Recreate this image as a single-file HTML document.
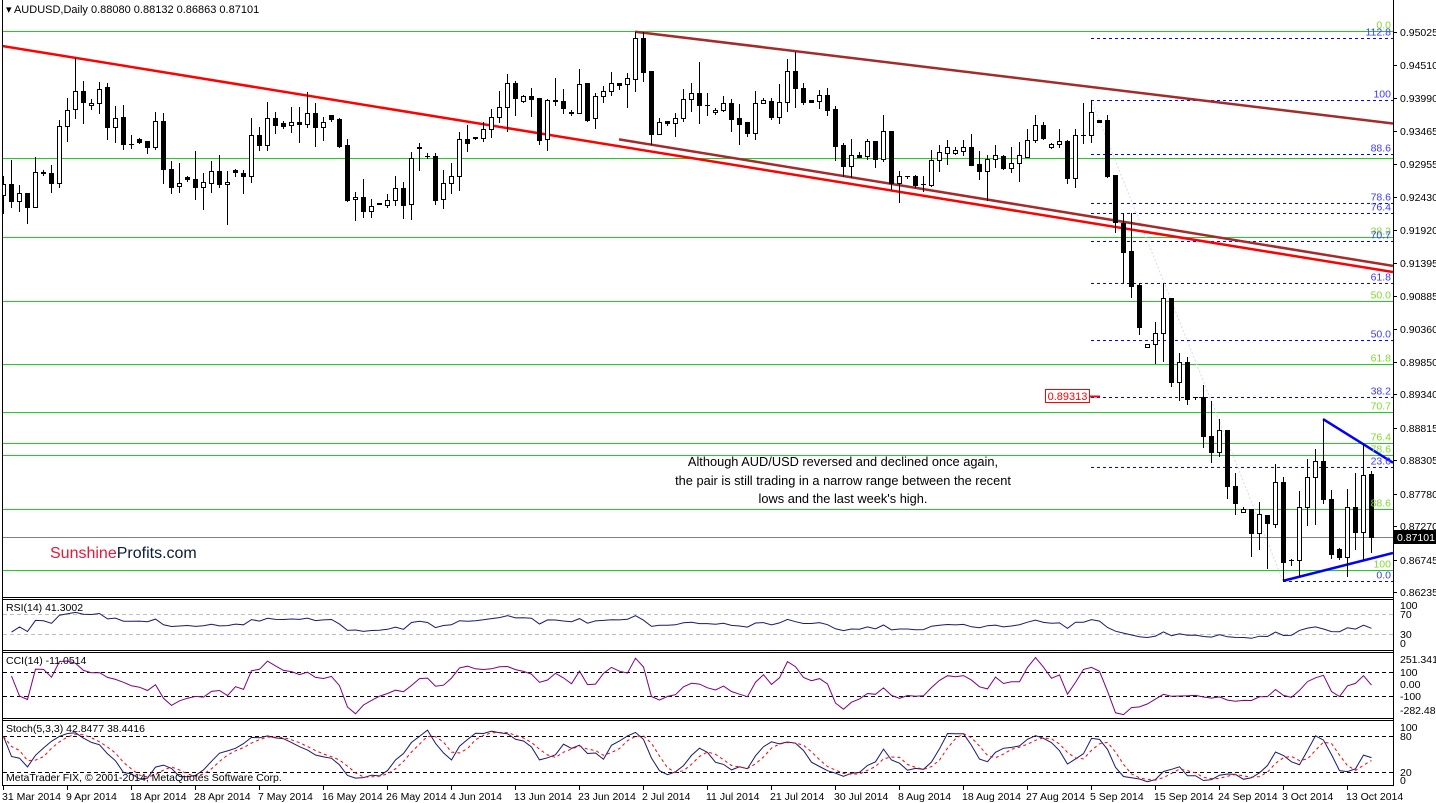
<!DOCTYPE html>
<html><head><meta charset="utf-8"><title>AUDUSD Daily</title>
<style>
html,body{margin:0;padding:0;background:#fff;}
body{width:1436px;height:803px;overflow:hidden;font-family:"Liberation Sans",sans-serif;}
svg{display:block;}
svg text{font-family:"Liberation Sans",sans-serif;}
</style></head>
<body>
<svg id="chart" xmlns="http://www.w3.org/2000/svg" width="1436" height="803" viewBox="0 0 1436 803">
  <defs>
    <clipPath id="cMain"><rect x="3" y="1" width="1390" height="596"/></clipPath>
    <clipPath id="cRsi"><rect x="3" y="600" width="1390" height="50"/></clipPath>
    <clipPath id="cCci"><rect x="3" y="653" width="1390" height="65"/></clipPath>
    <clipPath id="cSto"><rect x="3" y="721" width="1390" height="64"/></clipPath>
  </defs>
  <g id="frame" stroke="#000" stroke-width="1" fill="none">
    <line x1="2.5" y1="0" x2="2.5" y2="786"/>
    <line x1="1393.5" y1="0" x2="1393.5" y2="786"/>
    <line x1="2" y1="597.5" x2="1394" y2="597.5"/>
    <line x1="2" y1="599.5" x2="1394" y2="599.5"/>
    <line x1="2" y1="650.5" x2="1394" y2="650.5"/>
    <line x1="2" y1="652.5" x2="1394" y2="652.5"/>
    <line x1="2" y1="718.5" x2="1394" y2="718.5"/>
    <line x1="2" y1="720.5" x2="1394" y2="720.5"/>
    <line x1="2" y1="785.5" x2="1394" y2="785.5"/>
  </g>
  <g id="levels" clip-path="url(#cMain)"></g>
  <g id="trend" clip-path="url(#cMain)"></g>
  <g id="candles" clip-path="url(#cMain)"></g>
  <g id="overlay"></g>
  <g id="ind"></g>
  <g id="axes"></g>
  <text x="6" y="13" font-size="11" fill="#000">▾ AUDUSD,Daily  0.88080 0.88132 0.86863 0.87101</text>
  <text x="843" y="466" font-size="12.8" fill="#000" text-anchor="middle">Although AUD/USD reversed and declined once again,</text>
  <text x="843" y="485" font-size="12.8" fill="#000" text-anchor="middle">the pair is still trading in a narrow range between the recent</text>
  <text x="843" y="503" font-size="12.8" fill="#000" text-anchor="middle">lows and the last week's high.</text>
  <text x="50" y="558" font-size="16"><tspan fill="#e8173a">Sunshine</tspan><tspan fill="#0a1a3a">Profits.com</tspan></text>
  <text x="6" y="611" font-size="10.5" fill="#000">RSI(14) 41.3002</text>
  <text x="6" y="664" font-size="10.5" fill="#000">CCI(14) -11.0514</text>
  <text x="6" y="732" font-size="10.5" fill="#000">Stoch(5,3,3) 42.8477 38.4416</text>
  <text x="6" y="781" font-size="10.5" fill="#000">MetaTrader FIX, © 2001-2014, MetaQuotes Software Corp.</text>
</svg>
<script>
const opens=[.9247,.9264,.9237,.9250,.9228,.9283,.9281,.9265,.9355,.9382,
.9410,.9388,.9391,.9416,.9353,.9369,.9327,.9335,.9331,.9322,
.9363,.9287,.9261,.9275,.9272,.9259,.9265,.9284,.9264,.9286,
.9281,.9276,.9341,.9325,.9367,.9360,.9356,.9361,.9358,.9375,
.9353,.9372,.9366,.9325,.9240,.9243,.9221,.9234,.9231,.9239,
.9258,.9232,.9320,.9308,.9308,.9240,.9265,.9276,.9335,.9338,
.9336,.9350,.9369,.9385,.9422,.9394,.9402,.9399,.9335,.9396,
.9394,.9377,.9375,.9422,.9367,.9402,.9410,.9422,.9421,.9429,
.9493,.9441,.9342,.9363,.9360,.9367,.9397,.9407,.9388,.9377,
.9380,.9391,.9367,.9361,.9344,.9391,.9394,.9369,.9393,.9441,
.9415,.9396,.9394,.9404,.9382,.9325,.9292,.9309,.9308,.9331,
.9303,.9347,.9265,.9276,.9276,.9264,.9262,.9302,.9312,.9312,
.9315,.9322,.9295,.9284,.9303,.9308,.9289,.9297,.9306,.9333,
.9356,.9322,.9327,.9331,.9273,.9341,.9341,.9364,.9364,.9278,
.9203,.9159,.9105,.9008,.9013,.9030,.9085,.8953,.8984,.8929,
.8930,.8868,.8843,.8878,.8790,.8749,.8754,.8716,.8744,.8730,
.8796,.8673,.8673,.8757,.8804,.8829,.8769,.8691,.8678,.8757,
.8717,.8808];
const highs=[.9276,.9302,.9262,.9250,.9306,.9286,.9294,.9364,.9399,.9462,
.9426,.9397,.9424,.9422,.9386,.9388,.9341,.9336,.9331,.9377,
.9375,.9300,.9297,.9276,.9316,.9281,.9300,.9309,.9284,.9287,
.9286,.9367,.9353,.9393,.9377,.9363,.9385,.9385,.9408,.9391,
.9369,.9372,.9367,.9335,.9251,.9272,.9240,.9234,.9248,.9276,
.9267,.9314,.9328,.9312,.9312,.9286,.9297,.9346,.9356,.9338,
.9361,.9382,.9410,.9437,.9426,.9404,.9415,.9399,.9397,.9430,
.9413,.9380,.9444,.9422,.9407,.9418,.9440,.9422,.9438,.9503,
.9503,.9441,.9367,.9363,.9375,.9413,.9422,.9455,.9407,.9383,
.9402,.9397,.9389,.9361,.9410,.9399,.9399,.9421,.9460,.9471,
.9422,.9396,.9411,.9415,.9386,.9328,.9335,.9314,.9335,.9331,
.9372,.9347,.9284,.9276,.9278,.9276,.9317,.9325,.9333,.9322,
.9333,.9342,.9316,.9309,.9325,.9309,.9322,.9330,.9350,.9372,
.9361,.9328,.9350,.9333,.9350,.9391,.9396,.9364,.9372,.9278,
.9218,.9218,.9109,.9013,.9047,.9109,.9085,.8999,.8992,.8930,
.8948,.8923,.8895,.8878,.8810,.8757,.8754,.8765,.8744,.8824,
.8804,.8675,.8782,.8832,.8848,.8895,.8783,.8693,.8785,.8810,
.8854,.8813];
const lows=[.9218,.9228,.9221,.9203,.9228,.9278,.9251,.9259,.9331,.9367,
.9360,.9382,.9375,.9335,.9330,.9319,.9320,.9328,.9312,.9319,
.9265,.9250,.9251,.9268,.9240,.9225,.9251,.9259,.9201,.9276,
.9250,.9267,.9317,.9317,.9344,.9352,.9346,.9330,.9353,.9324,
.9333,.9363,.9322,.9237,.9207,.9212,.9212,.9232,.9228,.9231,
.9210,.9209,.9286,.9305,.9232,.9226,.9250,.9254,.9316,.9335,
.9331,.9338,.9361,.9347,.9372,.9393,.9371,.9327,.9317,.9388,
.9375,.9372,.9375,.9363,.9352,.9393,.9404,.9413,.9385,.9410,
.9426,.9327,.9342,.9356,.9339,.9363,.9378,.9360,.9372,.9374,
.9378,.9347,.9327,.9339,.9335,.9391,.9366,.9360,.9378,.9385,
.9389,.9393,.9383,.9372,.9302,.9276,.9275,.9306,.9303,.9291,
.9300,.9256,.9236,.9273,.9259,.9253,.9261,.9284,.9295,.9311,
.9309,.9294,.9272,.9239,.9291,.9287,.9283,.9268,.9306,.9330,
.9335,.9320,.9322,.9265,.9259,.9328,.9330,.9361,.9275,.9189,
.9110,.9086,.9028,.9008,.8983,.8986,.8947,.8925,.8918,.8927,
.8851,.8827,.8837,.8771,.8746,.8749,.8680,.8691,.8661,.8725,
.8641,.8666,.8648,.8728,.8731,.8763,.8677,.8675,.8648,.8691,
.8675,.8686];
const closes=[.9264,.9237,.9250,.9228,.9283,.9281,.9265,.9355,.9380,.9410,
.9393,.9391,.9413,.9353,.9367,.9327,.9326,.9330,.9322,.9363,
.9287,.9259,.9265,.9272,.9259,.9267,.9284,.9264,.9267,.9283,
.9276,.9341,.9325,.9367,.9356,.9355,.9361,.9358,.9375,.9353,
.9361,.9366,.9324,.9239,.9243,.9221,.9229,.9232,.9239,.9258,
.9231,.9305,.9322,.9308,.9239,.9265,.9276,.9335,.9328,.9336,
.9350,.9369,.9385,.9422,.9399,.9402,.9397,.9333,.9396,.9394,
.9383,.9375,.9421,.9364,.9402,.9410,.9422,.9419,.9430,.9493,
.9440,.9342,.9361,.9360,.9367,.9397,.9407,.9388,.9388,.9380,
.9391,.9366,.9358,.9344,.9391,.9396,.9369,.9393,.9441,.9415,
.9393,.9393,.9404,.9380,.9324,.9292,.9309,.9306,.9331,.9303,
.9347,.9265,.9276,.9276,.9262,.9264,.9302,.9314,.9322,.9317,
.9322,.9294,.9284,.9303,.9309,.9289,.9297,.9309,.9333,.9356,
.9336,.9327,.9331,.9273,.9341,.9341,.9377,.9361,.9276,.9204,
.9157,.9104,.9039,.9013,.9030,.9085,.8953,.8984,.8926,.8929,
.8868,.8843,.8878,.8790,.8763,.8754,.8716,.8746,.8732,.8796,
.8670,.8673,.8757,.8804,.8829,.8769,.8683,.8678,.8757,.8717,
.8807,.87101];
const dateLabels=['31 Mar 2014','9 Apr 2014','18 Apr 2014','28 Apr 2014','7 May 2014','16 May 2014','26 May 2014','4 Jun 2014','13 Jun 2014','23 Jun 2014','2 Jul 2014','11 Jul 2014','21 Jul 2014','30 Jul 2014','8 Aug 2014','18 Aug 2014','27 Aug 2014','5 Sep 2014','15 Sep 2014','24 Sep 2014','3 Oct 2014','13 Oct 2014'];
const priceTicks=[0.95025,0.94510,0.93990,0.93465,0.92955,0.92430,0.91920,0.91395,0.90885,0.90360,0.89850,0.89340,0.88815,0.88305,0.87780,0.87270,0.86745,0.86235];
const greenFibHigh=0.9504, greenFibLow=0.8658;
const greenRatios=[0,23.6,38.2,50,61.8,70.7,76.4,78.6,88.6,100];
const blueFibHigh=0.93965, blueFibLow=0.8641, blueHighBar=136, blueLowBar=160;
const blueRatios=[0,23.6,38.2,50,61.8,70.7,76.4,78.6,88.6,100,112.8];
const redLine=[9,0.9462,130,0.9215];
const brownUpper=[79,0.9503,171,0.9363];
const brownLower=[77,0.9334,171,0.9141];
const triUpper=[165,0.8895,171,0.8848];
const triLower=[160,0.8641,171,0.8676];
const markedPrice=0.89313;
const lastPrice=0.87101;

const NS='http://www.w3.org/2000/svg';
const xS=i=>3+8*i;
const yP=p=>32+(0.95025-p)*6371;
const yRsi=v=>649-0.5*v;
const yCci=v=>684-0.12*v;
const ySto=v=>784-0.6*v;
function mk(tag,attrs,parent){const e=document.createElementNS(NS,tag);for(const k in attrs)e.setAttribute(k,attrs[k]);parent.appendChild(e);return e;}
const gL=document.getElementById('levels'),gT=document.getElementById('trend'),gC=document.getElementById('candles'),gO=document.getElementById('overlay'),gI=document.getElementById('ind'),gA=document.getElementById('axes');

greenRatios.forEach(r=>{
  const p=greenFibHigh-r/100*(greenFibHigh-greenFibLow);const y=Math.round(yP(p))+0.5;
  const l=mk('line',{x1:3,x2:1393,y1:y,y2:y,stroke:'#22cc22','stroke-width':1},gL);
  
  
  if(r!==23.6){const t=mk('text',{x:1391,y:y-3,'font-size':10.5,fill:'#7ddc2a','text-anchor':'end'},gO);t.textContent=r.toFixed(1).replace('100.0','100');
  
  }
});
blueRatios.forEach(r=>{
  const p=blueFibLow+r/100*(blueFibHigh-blueFibLow);const y=Math.round(yP(p))+0.5;
  const x0=r===0?xS(blueLowBar):xS(blueHighBar);
  const l=mk('line',{x1:x0,x2:1393,y1:y,y2:y,stroke:'#0000ff','stroke-width':1,'stroke-dasharray':'3,3'},gL);
  
  
  const t=mk('text',{x:1391,y:y-3,'font-size':10.5,fill:'#3b3bff','text-anchor':'end'},gO);t.textContent=r.toFixed(1).replace('100.0','100');
  
  
});
const fc=mk('line',{x1:xS(blueHighBar),y1:yP(blueFibHigh),x2:xS(blueLowBar),y2:yP(blueFibLow),stroke:'#d8d8f0','stroke-width':1,'stroke-dasharray':'2,2'},gL);


const lp=mk('line',{x1:3,x2:1393,y1:Math.round(yP(lastPrice))+0.5,y2:Math.round(yP(lastPrice))+0.5,stroke:'#808080','stroke-width':1},gL);



function trend(a,color,w,name,x0,x1){
  const s=(yP(a[3])-yP(a[1]))/(xS(a[2])-xS(a[0]));
  const xa=x0===undefined?0:x0, xb=x1===undefined?1393:x1;
  const l=mk('line',{x1:xa,y1:yP(a[1])+s*(xa-xS(a[0])),x2:xb,y2:yP(a[1])+s*(xb-xS(a[0])),stroke:color,'stroke-width':w},gT);
  
  
}
trend(redLine,'#ff0000',2.5,'red-trendline');
trend(brownUpper,'#a52a2a',2.5,'brown-channel-upper',xS(brownUpper[0]));
trend(brownLower,'#a52a2a',2.5,'brown-channel-lower',xS(brownLower[0]));
trend(triUpper,'#0000ff',2.5,'triangle-upper-line',xS(triUpper[0]));
trend(triLower,'#0000ff',2.5,'triangle-lower-line',xS(triLower[0]));

for(let i=0;i<closes.length;i++){
  const x=xS(i);const o=opens[i],c=closes[i];
  const w=mk('line',{x1:x+0.5,x2:x+0.5,y1:Math.round(yP(highs[i])),y2:Math.round(yP(lows[i]))+1,stroke:'#000','stroke-width':1},gC);
  
  
  const top=Math.round(yP(Math.max(o,c))),bot=Math.round(yP(Math.min(o,c)));
  const up=c>=o;
  const b=mk('rect',{x:x-1.5,y:top+0.5,width:4,height:Math.max(bot-top,0.01),fill:up?'#fff':'#000',stroke:'#000','stroke-width':1},gC);
  
  
}

const my=Math.round(yP(markedPrice));
const mr=mk('rect',{x:1045.5,y:my-6.5,width:44,height:13,fill:'#fff',stroke:'#ff0000','stroke-width':1},gO);


const ml=mk('line',{x1:1090,x2:1100,y1:my+0.5,y2:my+0.5,stroke:'#ff0000','stroke-width':2},gO);


const mt=mk('text',{x:1067.5,y:my+4,'font-size':11,fill:'#ff0000','text-anchor':'middle'},gO);mt.textContent=markedPrice.toFixed(5);



priceTicks.forEach(p=>{
  const y=Math.round(yP(p));
  const tk=mk('line',{x1:1394,x2:1397,y1:y+0.5,y2:y+0.5,stroke:'#000'},gA);
  
  
  const t=mk('text',{x:1400,y:y+4,'font-size':10.5,fill:'#000'},gA);t.textContent=p.toFixed(5);
  
  
});
const ly=Math.round(yP(lastPrice));
const lb=mk('rect',{x:1394,y:ly-7,width:42,height:14,fill:'#000'},gA);


const lt=mk('text',{x:1397,y:ly+4,'font-size':10.5,fill:'#fff'},gA);lt.textContent=lastPrice.toFixed(5);



dateLabels.forEach((d,k)=>{
  const x=xS(k*8);
  const tk=mk('line',{x1:x+0.5,x2:x+0.5,y1:786,y2:790,stroke:'#000'},gA);
  
  
  const t=mk('text',{x:x-1,y:800,'font-size':10.5,fill:'#000'},gA);t.textContent=d;
  
  
});

function guide(y,color,name){const l=mk('line',{x1:3,x2:1393,y1:Math.round(y)+0.5,y2:Math.round(y)+0.5,stroke:color,'stroke-dasharray':'4,3'},gI);
  
  }
function slabel(y,txt){const t=mk('text',{x:1400,y:y+4,'font-size':10.5,fill:'#000'},gA);t.textContent=txt;
  
  }
guide(yRsi(70),'#c0c0c0','rsi-level-70');guide(yRsi(30),'#c0c0c0','rsi-level-30');
slabel(605,'100');slabel(yRsi(70),'70');slabel(yRsi(30),'30');slabel(643,'0');
guide(yCci(100),'#000','cci-level-100');guide(yCci(-100),'#000','cci-level-minus100');
slabel(659,'251.3414');slabel(yCci(100),'100');slabel(yCci(0),'0.00');slabel(yCci(-100),'-100');slabel(710,'-282.4806');
guide(ySto(80),'#000','stoch-level-80');guide(ySto(20),'#000','stoch-level-20');
slabel(727,'100');slabel(ySto(80),'80');slabel(ySto(20),'20');slabel(780,'0');

const n=closes.length;
const rsi=[];let ag=0,al=0;
for(let i=1;i<n;i++){const d=closes[i]-closes[i-1];const g=Math.max(d,0),l=Math.max(-d,0);const p=Math.min(i+2,14);
  if(i===1){ag=0.0012;al=0.0010;}
  ag=(ag*(p-1)+g)/p;al=(al*(p-1)+l)/p;rsi[i]=al===0?100:100-100/(1+ag/al);}
const cci=[];
for(let i=1;i<n;i++){const p=Math.min(i+1,14);const tp=[];for(let j=i-p+1;j<=i;j++)tp.push((highs[j]+lows[j]+closes[j])/3);
  const m=tp.reduce((a,b)=>a+b,0)/p;const md=tp.reduce((a,b)=>a+Math.abs(b-m),0)/p;cci[i]=md===0?0:(tp[p-1]-m)/(0.015*md);}
const kr=[],st=[],sd=[];
for(let i=0;i<n;i++){let hh=-1,ll=9;for(let j=Math.max(0,i-4);j<=i;j++){hh=Math.max(hh,highs[j]);ll=Math.min(ll,lows[j]);}kr[i]=[closes[i]-ll,hh-ll];}
for(let i=0;i<n;i++){let a=0,b=0;for(let j=Math.max(0,i-2);j<=i;j++){a+=kr[j][0];b+=kr[j][1];}st[i]=b===0?50:100*a/b;}
for(let i=0;i<n;i++){let a=0,c=0;for(let j=Math.max(0,i-2);j<=i;j++){a+=st[j];c++;}sd[i]=a/c;}

function poly(vals,ys,start,color,dash,clip,name){
  const pts=[];for(let i=start;i<n;i++)pts.push(xS(i)+0.5+','+ys(vals[i]).toFixed(1));
  const g=mk('g',{'clip-path':'url(#'+clip+')'},gI);
  const a={points:pts.join(' '),fill:'none',stroke:color,'stroke-width':1};if(dash)a['stroke-dasharray']=dash;
  const pl=mk('polyline',a,g);
  
  
}
poly(rsi,yRsi,1,'#1a1a6e',null,'cRsi','rsi-line');
poly(cci,yCci,1,'#800080',null,'cCci','cci-line');
poly(st,ySto,0,'#1a1a6e',null,'cSto','stoch-main-line');
poly(sd,ySto,0,'#ff0000','3,3','cSto','stoch-signal-line');
</script>
</body></html>
